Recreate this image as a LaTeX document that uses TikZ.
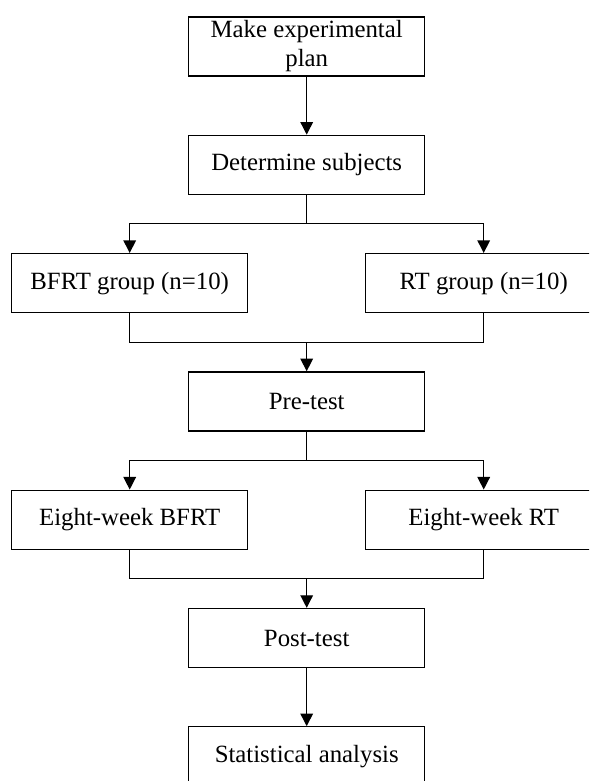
\documentclass[tikz,border=0pt]{standalone}
\usepackage{fontspec}
\setmainfont{Liberation Serif}
\usepackage{tikz}
\usetikzlibrary{arrows.meta,calc,positioning}
\tikzset{%
	process/.style  = {draw, rectangle, line width=0.65pt, minimum width=118pt, minimum height=29.5pt, text centered, align=center, font=\fontsize{12.4}{14.5}\selectfont},
	waypoint/.style = {coordinate}, % bend point
	line/.style     = {line width=0.65pt},
	arrow/.style    = {line width=0.65pt, -{Triangle[length=6.3pt,width=6.3pt]}},
}

\begin{document}
\begin{tikzpicture}[node distance = 59.15pt]
	\useasboundingbox (0,0) rectangle (294.5pt,-390.5pt);
	\clip (0,0) rectangle (294.5pt,-390.5pt);
	\node[process,inner ysep=1pt] (plan) at (153.35pt,-23.25pt) {Make experimental\\plan};
	\node[process,below of=plan] (subj) {Determine subjects};
	\node[waypoint,below of=subj,node distance=29.5pt] (split1) {};
	\node[process,below of=subj,xshift=-88.5pt] (bfrt) {BFRT group (n=10)};
	\node[process,below of=subj,xshift=88.5pt] (rt) {RT group (n=10)};
	\node[process,below of=subj,node distance=118.3pt] (pre) {Pre-test};
	\node[waypoint,above of=pre,node distance=29.6pt] (join1) {};
	\node[waypoint,below of=pre,node distance=29.6pt] (split2) {};
	\node[process,below of=pre,xshift=-88.5pt] (bfrtweek) {Eight-week BFRT};
	\node[process,below of=pre,xshift=88.5pt] (rtweek) {Eight-week RT};
	\node[process,below of=pre,node distance=118.3pt] (post) {Post-test};
	\node[waypoint,above of=post,node distance=29.6pt] (join2) {};
	\node[process,below of=post] (stat) {Statistical analysis};
	% connectors
	\draw[arrow] (plan) -- (subj);
	\draw[line] (subj) -- (split1);
	\draw[arrow] (split1) -| (bfrt.north);
	\draw[arrow] (split1) -| (rt.north);
	\draw[line] (bfrt.south) |- (join1);
	\draw[line] (rt.south) |- (join1);
	\draw[arrow] (join1) -- (pre);
	\draw[line] (pre) -- (split2);
	\draw[arrow] (split2) -| (bfrtweek.north);
	\draw[arrow] (split2) -| (rtweek.north);
	\draw[line] (bfrtweek.south) |- (join2);
	\draw[line] (rtweek.south) |- (join2);
	\draw[arrow] (join2) -- (post);
	\draw[arrow] (post) -- (stat);
\end{tikzpicture}
\end{document}
